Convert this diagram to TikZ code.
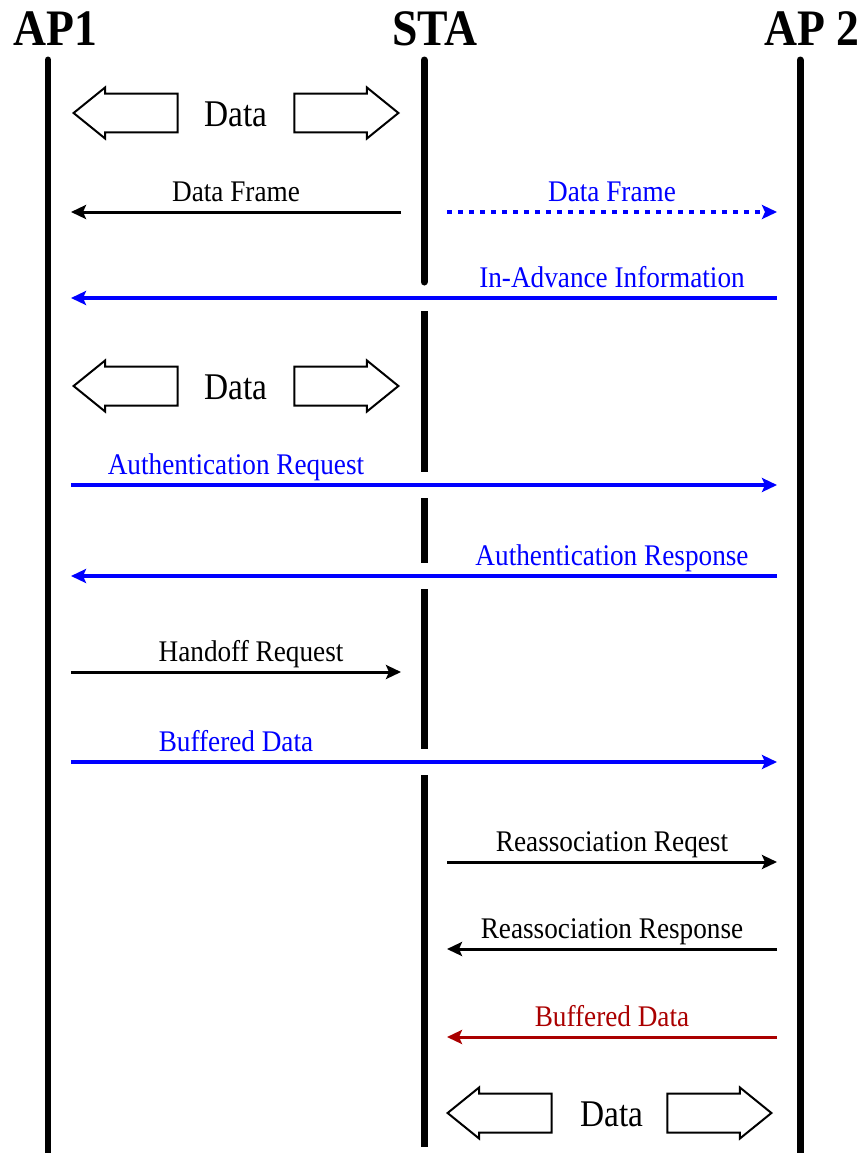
\documentclass[tikz,border=0pt]{standalone}
\usepackage{fontspec}
\setmainfont{Liberation Serif}
\usetikzlibrary{arrows.meta, shapes.arrows, calc}
\definecolor{bufred}{RGB}{170,0,0}
\tikzstyle{title} = [font=\fontsize{26}{26}\selectfont\bfseries, anchor=base, yscale=1.12, inner sep=0pt]
\tikzstyle{life} = [line width=0.14cm, line cap=round]
\tikzstyle{msg} = [line width=0.06cm, -{Stealth[length=0.3cm, width=0.28cm, inset=0.06cm]},
shorten <=0.46cm, shorten >=0.46cm]
\tikzstyle{lbl} = [anchor=base, yshift=0.22cm, inner sep=0pt, font=\fontsize{15.5}{16}\selectfont,
yscale=1.1]
\usetikzlibrary{positioning}

\begin{document}
\begin{tikzpicture}[x=0.02cm, y=-0.02cm]
  \tikzstyle{blkr}=[single arrow, draw, line width=0.04cm, inner xsep=0pt, inner ysep=0.37cm,
  minimum height=2.08cm, single arrow head extend=0.12cm, single arrow tip angle=78, anchor=tip]
  \tikzstyle{blkl}=[blkr, shape border rotate=180]
  \tikzstyle{msgb}=[msg, color=blue, line width=0.08cm]
  \tikzstyle{data}=[anchor=base, yshift=-0.26cm, inner sep=0pt, font=\fontsize{19}{19}\selectfont,
  yscale=1.13]
  \useasboundingbox (0,0) rectangle (865,1153);

  \node[title] (ap1) at (55,45) {AP1};
  \node[title] (sta) at (435,45) {STA};
  \node[title] (ap2) at (812,45) {AP 2};

  % one row for each step
  \foreach \r/\y in {0/60,1/113,2/212,3/298,4/386,5/485,6/576,7/672,8/762,9/862,10/949,11/1037,12/1113,13/1160}{
    \coordinate (a\r) at (48,\y);
    \coordinate (s\r) at (424,\y);
    \coordinate (b\r) at (800,\y);
  }

  \draw[life] (a0) -- (a13);
  \draw[life] (b0) -- (b13);
  \draw[life] (s0) -- ($(s3)+(0,-16)$);
  \foreach \p/\n in {3/5,5/6,6/8,8/13}
    \draw[life, line cap=butt] ($(s\p)+(0,13)$) -- ($(s\n)+(0,-13)$);

  % data exchange
  \node[blkl] (d1l) at ($(a1)+(24,0)$) {};
  \node[data] (d1) at ($(a1)!.5!(s1)$) {Data};
  \node[blkr] (d1r) at ($(s1)+(-24,0)$) {};

  \draw[msg] (s2) -- node[lbl] {Data Frame} (a2);
  \draw[msgb, dash pattern=on 0.1cm off 0.12cm] (s2) -- node[lbl] {Data Frame} (b2);
  \draw[msgb] (b3) -- node[lbl, pos=.25] {In-Advance Information} (a3);

  \node[blkl] (d4l) at ($(a4)+(24,0)$) {};
  \node[data] (d4) at ($(a4)!.5!(s4)$) {Data};
  \node[blkr] (d4r) at ($(s4)+(-24,0)$) {};

  \draw[msgb] (a5) -- node[lbl, pos=.25] {Authentication Request} (b5);
  \draw[msgb] (b6) -- node[lbl, pos=.25] {Authentication Response} (a6);
  \draw[msg] (a7) -- node[lbl, pos=.54] {Handoff Request} (s7);
  \draw[msgb] (a8) -- node[lbl, pos=.25] {Buffered Data} (b8);
  \draw[msg] (s9) -- node[lbl] {Reassociation Reqest} (b9);
  \draw[msg] (b10) -- node[lbl] {Reassociation Response} (s10);
  \draw[msg, color=bufred] (b11) -- node[lbl] {Buffered Data} (s11);

  \node[blkl] (d12l) at ($(s12)+(22,0)$) {};
  \node[data] (d12) at ($(s12)!.5!(b12)$) {Data};
  \node[blkr] (d12r) at ($(b12)+(-27,0)$) {};
\end{tikzpicture}
\end{document}
